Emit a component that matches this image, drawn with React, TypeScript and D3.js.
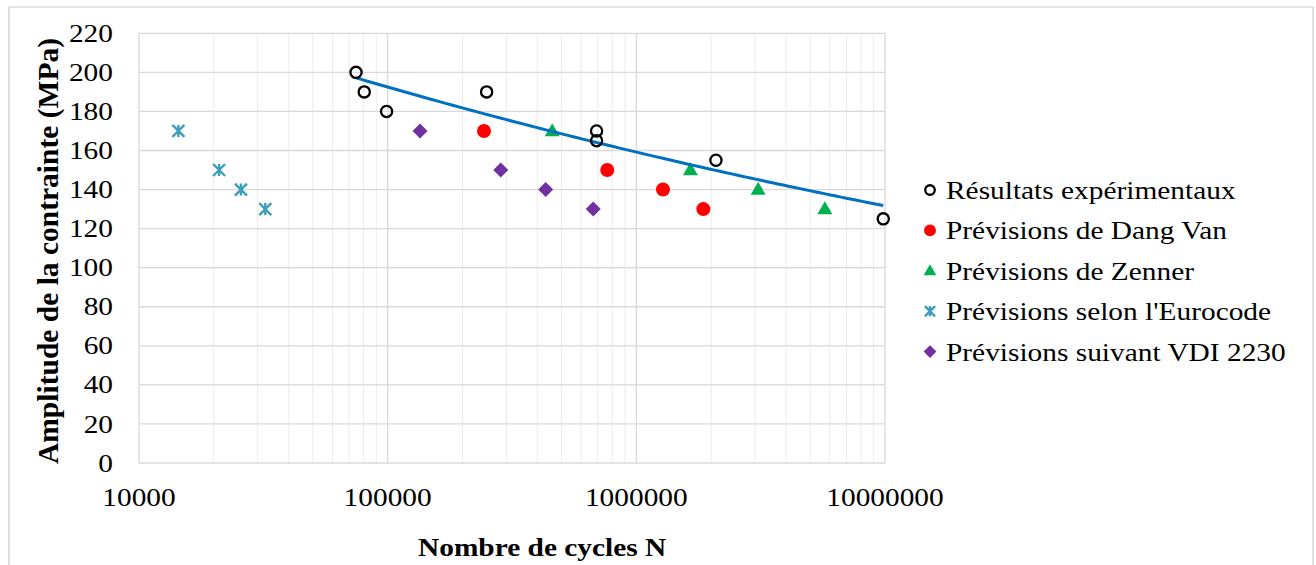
import React from "react";
import * as d3 from "d3";

const expN = [74600, 80500, 99000, 250000, 692000, 692000, 2090000, 9840000];
const expS = [200, 190, 180, 190, 170, 165, 155, 125];
const dangVanN = [244000, 764000, 1280000, 1860000];
const dangVanS = [170, 150, 140, 130];
const zennerN = [459000, 1650000, 3090000, 5730000];
const zennerS = [170, 150, 140, 130];
const eurocodeN = [14400, 21000, 25700, 32200];
const eurocodeS = [170, 150, 140, 130];
const vdiN = [135000, 285000, 432000, 671000];
const vdiS = [170, 150, 140, 130];
const xTicks = [10000, 100000, 1000000, 10000000];
const yTicks = [0, 20, 40, 60, 80, 100, 120, 140, 160, 180, 200, 220];
const legendLabels = [
  "Résultats expérimentaux",
  "Prévisions de Dang Van",
  "Prévisions de Zenner",
  "Prévisions selon l'Eurocode",
  "Prévisions suivant VDI 2230",
];

const W = 1316;
const H = 565;
const left = 139, right = 885, top = 33.3, bottom = 463;
const SX = 1.13;
const FONT = "'Liberation Serif', 'Times New Roman', serif";

type MarkerKind = "open" | "dot" | "tri" | "star" | "diamond";

function Marker({ kind, x, y, s = 1 }: { kind: MarkerKind; x: number; y: number; s?: number }) {
  if (kind === "open")
    return <circle cx={x} cy={y} r={5.6 * s} fill="none" stroke="#000" strokeWidth={2.3} />;
  if (kind === "dot") return <circle cx={x} cy={y} r={7 * s} fill="#ff0000" />;
  if (kind === "tri") {
    const w = 7.5 * s, h = 13 * s;
    return (
      <path
        d={`M${x},${y - h * 0.6} L${x + w},${y + h * 0.4} L${x - w},${y + h * 0.4} Z`}
        fill="#00b050"
      />
    );
  }
  if (kind === "star") {
    const a = 6 * s;
    return (
      <path
        d={`M${x - a},${y - a} L${x + a},${y + a} M${x - a},${y + a} L${x + a},${y - a} M${x},${y - a} L${x},${y + a}`}
        stroke="#3e9db8"
        strokeWidth={2.4}
        fill="none"
      />
    );
  }
  const d = 7.5 * s;
  return (
    <path d={`M${x},${y - d} L${x + d},${y} L${x},${y + d} L${x - d},${y} Z`} fill="#7030a0" />
  );
}

function SText({
  x, y, anchor = "start", size = 26, bold = false, children,
}: { x: number; y: number; anchor?: string; size?: number; bold?: boolean; children: React.ReactNode }) {
  return (
    <text
      transform={`translate(${x},${y}) scale(${SX},1)`}
      textAnchor={anchor as any}
      fontFamily={FONT}
      fontSize={size}
      fontWeight={bold ? "bold" : "normal"}
      fill="#000"
    >
      {children}
    </text>
  );
}

export default function App() {
  const x = d3.scaleLog().domain([10000, 10000000]).range([left, right]);
  const y = d3.scaleLinear().domain([0, 220]).range([bottom, top]);

  // minor ticks
  const minor: number[] = [];
  for (let e = 4; e < 7; e++) for (let k = 2; k <= 9; k++) minor.push(k * Math.pow(10, e));

  // power trendline fit of experimental data
  const lx = expN.map((v) => Math.log(v));
  const ly = expS.map((v) => Math.log(v));
  const mx = d3.mean(lx)!;
  const my = d3.mean(ly)!;
  let sxy = 0, sxx = 0;
  lx.forEach((v, i) => {
    sxy += (v - mx) * (ly[i] - my);
    sxx += (v - mx) * (v - mx);
  });
  const b = sxy / sxx;
  const a = Math.exp(my - b * mx);
  const nMin = d3.min(expN)!, nMax = d3.max(expN)!;
  const trendPts = d3.range(0, 101).map((i) => {
    const n = Math.exp(Math.log(nMin) + (i / 100) * (Math.log(nMax) - Math.log(nMin)));
    return [x(n), y(a * Math.pow(n, b))] as [number, number];
  });
  const line = d3.line();

  const series: { kind: MarkerKind; n: number[]; s: number[] }[] = [
    { kind: "star", n: eurocodeN, s: eurocodeS },
    { kind: "diamond", n: vdiN, s: vdiS },
    { kind: "dot", n: dangVanN, s: dangVanS },
    { kind: "tri", n: zennerN, s: zennerS },
  ];
  const legendKinds: MarkerKind[] = ["open", "dot", "tri", "star", "diamond"];

  return (
    <svg
      width={W}
      height={H}
      style={{ position: "absolute", left: 0, top: 0, display: "block", background: "#fff" }}
    >
      <rect x={9} y={7} width={1304} height={570} fill="#fff" stroke="#d9d9d9" strokeWidth={1.5} />
      {minor.map((m) => (
        <line key={"m" + m} x1={x(m)} x2={x(m)} y1={top} y2={bottom} stroke="#ececec" strokeWidth={1} />
      ))}
      {yTicks.map((t) => (
        <line key={"y" + t} x1={left} x2={right} y1={y(t)} y2={y(t)} stroke="#d9d9d9" strokeWidth={1.3} />
      ))}
      {xTicks.map((t) => (
        <line key={"x" + t} x1={x(t)} x2={x(t)} y1={top} y2={bottom} stroke="#d9d9d9" strokeWidth={1.3} />
      ))}
      {yTicks.map((t) => (
        <SText key={"yl" + t} x={113} y={y(t) + 8.6} anchor="end">
          {t}
        </SText>
      ))}
      {xTicks.map((t) => (
        <SText key={"xl" + t} x={x(t)} y={506} anchor="middle">
          {t}
        </SText>
      ))}
      <SText x={418} y={556} bold>
        Nombre de cycles N
      </SText>
      <text
        transform={`translate(58,251) rotate(-90)`}
        textAnchor="middle"
        fontFamily={FONT}
        fontSize={29.5}
        fontWeight="bold"
      >
        Amplitude de la contrainte (MPa)
      </text>
      {series.map((sr) =>
        sr.n.map((n, i) => <Marker key={sr.kind + i} kind={sr.kind} x={x(n)} y={y(sr.s[i])} />)
      )}
      <path d={line(trendPts) || ""} fill="none" stroke="#0070c0" strokeWidth={3} />
      {expN.map((n, i) => (
        <Marker key={"e" + i} kind="open" x={x(n)} y={y(expS[i])} />
      ))}
      {legendLabels.map((l, i) => {
        const cy = 190 + i * 40.4;
        return (
          <g key={l}>
            <Marker kind={legendKinds[i]} x={930} y={cy} s={0.85} />
            <SText x={946} y={cy + 9}>
              {l}
            </SText>
          </g>
        );
      })}
    </svg>
  );
}
